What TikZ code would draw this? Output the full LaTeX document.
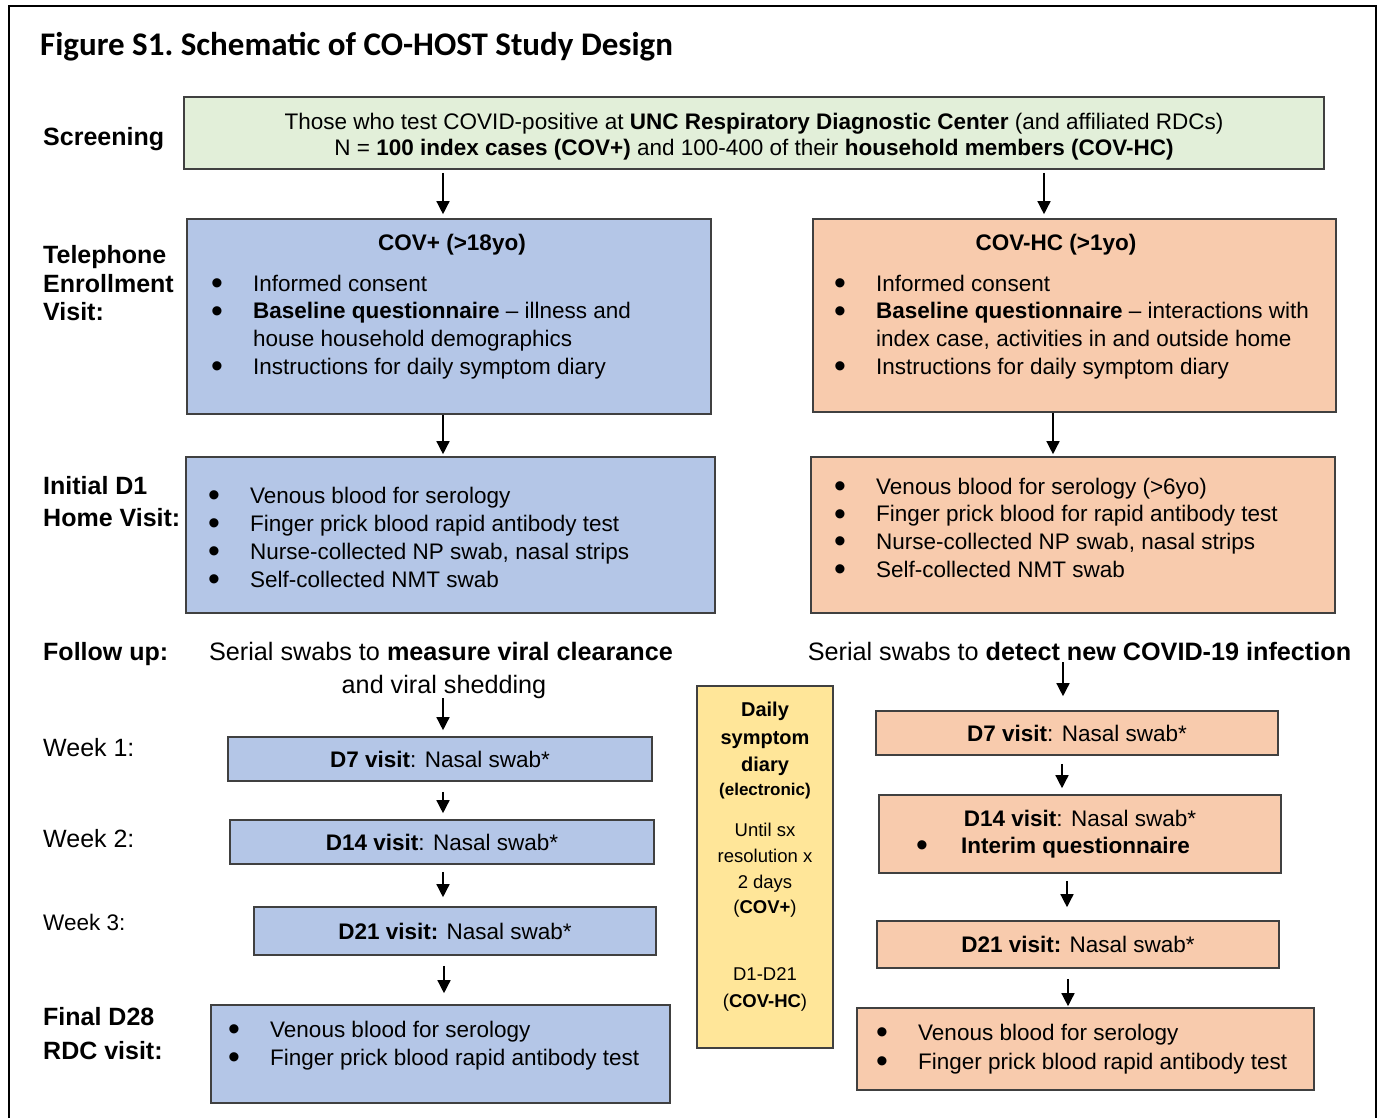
\documentclass[tikz,border=0pt]{standalone}
\usepackage{fontspec}
\setmainfont{Liberation Sans}
\newfontfamily\titlefont{Carlito}
\usetikzlibrary{arrows.meta}

\definecolor{scrgreen}{HTML}{E2EFD9}
\definecolor{covblue}{HTML}{B4C6E7}
\definecolor{hcorange}{HTML}{F8CBAD}
\definecolor{diaryyellow}{HTML}{FFE699}
\definecolor{boxline}{HTML}{404040}

\newcommand\bigdot{\smash{\raisebox{-3.5pt}{\scalebox{1.5}{\textbullet}}}}
\newcommand\itm{\makebox[42pt][l]{\bigdot}}
\newcommand\itmgap{\hspace*{42pt}}

\tikzset{
  box/.style={draw=boxline, line width=1.6pt, inner sep=0pt},
  greenbox/.style={box, fill=scrgreen},
  bluebox/.style={box, fill=covblue},
  orangebox/.style={box, fill=hcorange},
  diarybox/.style={box, fill=diaryyellow},
  txt/.style={inner sep=0pt, font=\fontsize{22.5}{27.7}\selectfont},
  futxt/.style={inner sep=0pt, anchor=base, font=\fontsize{25.2}{30}\selectfont},
  list/.style={txt, align=left, anchor=north west},
  lbl/.style={inner sep=0pt, anchor=base west, font=\bfseries\fontsize{25}{28}\selectfont},
  arr/.style={-{Triangle[length=13pt,width=13pt]}, line width=1.4pt},
}

\begin{document}
\begin{tikzpicture}[x=1pt,y=-1pt]
	\useasboundingbox (0,0) rectangle (1380,1118);
	\draw[line width=2.5pt] (9,1118) -- (9,6) -- (1376,6) -- (1376,1118);
	
	% title
	\node[inner sep=0pt, anchor=base west, font=\titlefont\bfseries\fontsize{33}{36}\selectfont] (title) at (40,56) {Figure S1.\ Schematic of CO-HOST Study Design};
	
	% row labels
	\node[lbl] (lscr) at (43,146) {Screening};
	\node[lbl] (ltel1) at (43,263) {Telephone};
	\node[lbl] (ltel2) at (43,292) {Enrollment};
	\node[lbl] (ltel3) at (43,320) {Visit:};
	\node[lbl] (lhome1) at (43,494) {Initial D1};
	\node[lbl] (lhome2) at (43,526) {Home Visit:};
	\node[lbl] (lfu) at (43,660) {Follow up:};
	\node[lbl, font=\fontsize{25}{28}\selectfont] (lw1) at (43,756) {Week 1:};
	\node[lbl, font=\fontsize{25}{28}\selectfont] (lw2) at (43,847) {Week 2:};
	\node[lbl, font=\fontsize{22.5}{28}\selectfont] (lw3) at (43,930) {Week 3:};
	\node[lbl] (lfin1) at (43,1025) {Final D28};
	\node[lbl] (lfin2) at (43,1059) {RDC visit:};
	
	% screening
	\node[greenbox, minimum width=1140pt, minimum height=72pt] (scr) at (754,133) {};
	\node[txt, anchor=base, align=center, font=\fontsize{22.5}{26}\selectfont] (scrtxt) at (754,156)
		{Those who test COVID-positive at \textbf{UNC Respiratory Diagnostic Center} (and affiliated RDCs)\\
		 N = \textbf{100 index cases (COV+)} and 100-400 of their \textbf{household members (COV-HC)}};
	
	% enrollment
	\node[bluebox, minimum width=524pt, minimum height=195pt] (covp) at (449,316.5) {};
	\node[txt, anchor=base] (covptitle) at (452,250) {\textbf{COV+ (>18yo)}};
	\node[list] (covplist) at (211,274.5) {\itm Informed consent\\
		\itm \textbf{Baseline questionnaire} – illness and\\
		\itmgap house household demographics\\
		\itm Instructions for daily symptom diary};
	
	\node[orangebox, minimum width=523pt, minimum height=193pt] (covhc) at (1074.5,315.5) {};
	\node[txt, anchor=base] (covhctitle) at (1056,250) {\textbf{COV-HC (>1yo)}};
	\node[list] (covhclist) at (834,274.5) {\itm Informed consent\\
		\itm \textbf{Baseline questionnaire} – interactions with\\
		\itmgap index case, activities in and outside home\\
		\itm Instructions for daily symptom diary};
	
	% home visit
	\node[bluebox, minimum width=529pt, minimum height=156pt] (homep) at (450.5,535) {};
	\node[list, font=\fontsize{22.5}{28}\selectfont] (homeplist) at (208,486.5) {\itm Venous blood for serology\\
		\itm Finger prick blood rapid antibody test\\
		\itm Nurse-collected NP swab, nasal strips\\
		\itm Self-collected NMT swab};
	
	\node[orangebox, minimum width=524pt, minimum height=156pt] (homehc) at (1073,535) {};
	\node[list] (homehclist) at (834,477.5) {\itm Venous blood for serology (>6yo)\\
		\itm Finger prick blood for rapid antibody test\\
		\itm Nurse-collected NP swab, nasal strips\\
		\itm Self-collected NMT swab};
	
	% follow up
	\node[futxt] (fuL1) at (441,660) {Serial swabs to \textbf{measure viral clearance}};
	\node[futxt] (fuL2) at (444,693) {and viral shedding};
	\node[futxt] (fuR) at (1079.5,660) {Serial swabs to \textbf{detect new COVID-19 infection}};
	
	\node[bluebox, txt, minimum width=424pt, minimum height=44pt] (d7p) at (440,759) {\textbf{D7 visit}: Nasal swab*};
	\node[bluebox, txt, minimum width=424pt, minimum height=44pt] (d14p) at (442,842) {\textbf{D14 visit}: Nasal swab*};
	\node[bluebox, txt, minimum width=402pt, minimum height=48pt] (d21p) at (455,931) {\textbf{D21 visit:} Nasal swab*};
	\node[bluebox, minimum width=459pt, minimum height=98pt] (finp) at (440.5,1054) {};
	\node[list, font=\fontsize{22.5}{28}\selectfont] (finplist) at (228,1020.5) {\itm Venous blood for serology\\
		\itm Finger prick blood rapid antibody test};
	
	\node[orangebox, txt, minimum width=402pt, minimum height=44pt] (d7hc) at (1077,733) {\textbf{D7 visit}: Nasal swab*};
	\node[orangebox, minimum width=402pt, minimum height=78pt] (d14hc) at (1080,834) {};
	\node[txt, anchor=base] (d14hca) at (1080,826) {\textbf{D14 visit}: Nasal swab*};
	\node[txt, anchor=base west] (d14hcb) at (916,853) {\makebox[45pt][l]{\bigdot}\textbf{Interim questionnaire}};
	\node[orangebox, txt, minimum width=402pt, minimum height=47pt] (d21hc) at (1078,944.5) {\textbf{D21 visit:} Nasal swab*};
	\node[orangebox, minimum width=457pt, minimum height=82pt] (finhc) at (1085.5,1049) {};
	\node[list, font=\fontsize{22.5}{29}\selectfont] (finhclist) at (876,1023.5) {\itm Venous blood for serology\\
		\itm Finger prick blood rapid antibody test};
	
	% symptom diary
	\node[diarybox, minimum width=136pt, minimum height=362pt] (diary) at (765,867) {};
	\node[inner sep=0pt, anchor=north, align=center, font=\bfseries\fontsize{20}{27.5}\selectfont] (diaryA) at (765,702) {Daily\\symptom\\diary};
	\node[inner sep=0pt, font=\bfseries\fontsize{17}{20}\selectfont] (diaryB) at (765,791) {(electronic)};
	\node[inner sep=0pt, anchor=north, align=center, font=\fontsize{18.5}{25.7}\selectfont] (diaryC) at (765,823) {Until sx\\resolution x\\2 days\\(\textbf{COV+})};
	\node[inner sep=0pt, anchor=north, align=center, font=\fontsize{18.5}{27}\selectfont] (diaryD) at (765,967) {D1-D21\\(\textbf{COV-HC})};
	
	% arrows
	\draw[arr, shorten <=3pt, shorten >=4pt] (scr.south -| 443,0) -- (covp.north -| 443,0);
	\draw[arr, shorten <=3pt, shorten >=4pt] (scr.south -| 1044,0) -- (covhc.north -| 1044,0);
	\draw[arr, shorten >=2pt] (covp.south -| 443,0) -- (homep.north -| 443,0);
	\draw[arr, shorten >=2pt] (covhc.south -| 1053,0) -- (homehc.north -| 1053,0);
	\draw[arr, shorten >=6pt] (fuL2.south -| 443,0) -- (d7p.north -| 443,0);
	\draw[arr, shorten <=2pt, shorten >=14pt] (fuR.south -| 1063,0) -- (d7hc.north -| 1063,0);
	\draw[arr, shorten <=10pt, shorten >=6pt] (d7p.south -| 443,0) -- (d14p.north -| 443,0);
	\draw[arr, shorten <=7pt, shorten >=9pt] (d14p.south -| 443,0) -- (d21p.north -| 443,0);
	\draw[arr, shorten <=10pt, shorten >=11pt] (d21p.south -| 444,0) -- (finp.north -| 444,0);
	\draw[arr, shorten <=8pt, shorten >=6pt] (d7hc.south -| 1062,0) -- (d14hc.north -| 1062,0);
	\draw[arr, shorten <=7pt, shorten >=13pt] (d14hc.south -| 1067,0) -- (d21hc.north -| 1067,0);
	\draw[arr, shorten <=10pt, shorten >=1pt] (d21hc.south -| 1068,0) -- (finhc.north -| 1068,0);
\end{tikzpicture}
\end{document}
